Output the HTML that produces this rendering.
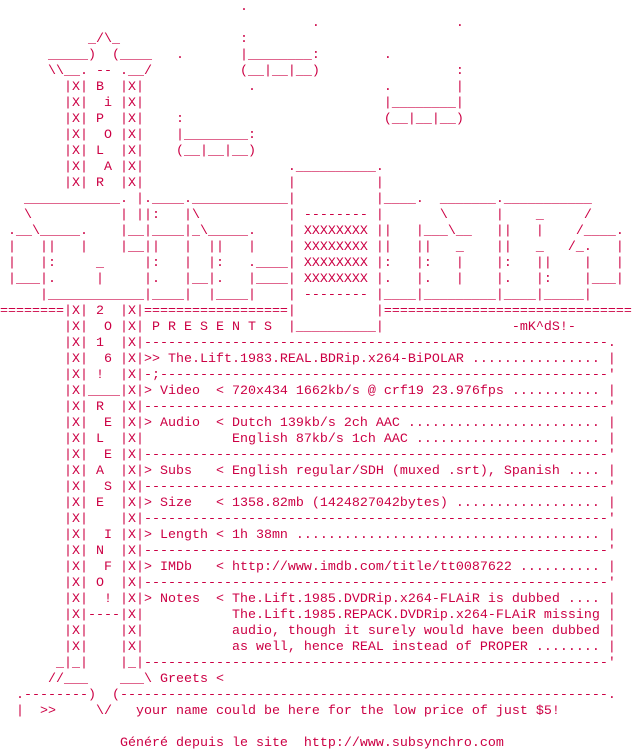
<!DOCTYPE html>
<html><head><meta charset="utf-8">
<style>
html,body{margin:0;padding:0;background:#fff;width:632px;height:752px;overflow:hidden}
pre{margin:0;padding:0;font-family:"Liberation Mono","DejaVu Sans Mono",monospace;font-size:13.33px;line-height:16px;color:#cc0044;white-space:pre}
</style></head><body><pre>                              .
                                       .                 .
           _/\_               :
      _____)  (____   .       |________:        .
      \\__. -- .__/           (__|__|__)                 :
        |X| B  |X|             .                .        |
        |X|  i |X|                              |________|
        |X| P  |X|    :                         (__|__|__)
        |X|  O |X|    |________:
        |X| L  |X|    (__|__|__)
        |X|  A |X|                  .__________.
        |X| R  |X|                  |          |
   ____________. |.____.____________|          |____.  _______.___________
   \           | ||:   |\           | -------- |       \      |    _     /
 .__\_____.    |__|____|_\_____.    | XXXXXXXX ||   |___\__   ||   |    /____.
 |   ||   |    |__||   |  ||   |    | XXXXXXXX ||   ||   _    ||   _   /_.   |
 |   |:     _     |:   |  |:   .____| XXXXXXXX |:   |:   |    |:   ||    |   |
 |___|.     |     |.   |__|.   |____| XXXXXXXX |.   |.   |    |.   |:    |___|
     |____________|____|  |____|    | -------- |____|_________|____|_____|
========|X| 2  |X|==================|          |===============================
        |X|  O |X| P R E S E N T S  |__________|                -mK^dS!-
        |X| 1  |X|----------------------------------------------------------.
        |X|  6 |X|>> The.Lift.1983.REAL.BDRip.x264-BiPOLAR ................ |
        |X| !  |X|-;--------------------------------------------------------'
        |X|____|X|> Video  &lt; 720x434 1662kb/s @ crf19 23.976fps ........... |
        |X| R  |X|----------------------------------------------------------'
        |X|  E |X|> Audio  &lt; Dutch 139kb/s 2ch AAC ........................ |
        |X| L  |X|           English 87kb/s 1ch AAC ....................... |
        |X|  E |X|----------------------------------------------------------'
        |X| A  |X|> Subs   &lt; English regular/SDH (muxed .srt), Spanish .... |
        |X|  S |X|----------------------------------------------------------'
        |X| E  |X|> Size   &lt; 1358.82mb (1424827042bytes) .................. |
        |X|    |X|----------------------------------------------------------'
        |X|  I |X|> Length &lt; 1h 38mn ...................................... |
        |X| N  |X|----------------------------------------------------------'
        |X|  F |X|> IMDb   &lt; http://www.imdb.com/title/tt0087622 .......... |
        |X| O  |X|----------------------------------------------------------'
        |X|  ! |X|> Notes  &lt; The.Lift.1985.DVDRip.x264-FLAiR is dubbed .... |
        |X|----|X|           The.Lift.1985.REPACK.DVDRip.x264-FLAiR missing |
        |X|    |X|           audio, though it surely would have been dubbed |
        |X|    |X|           as well, hence REAL instead of PROPER ........ |
       _|_|    |_|----------------------------------------------------------'
      //___    ___\ Greets &lt;
  .--------)  (-------------------------------------------------------------.
  |  >>     \/   your name could be here for the low price of just $5!

               Généré depuis le site  http://www.subsynchro.com
</pre></body></html>
